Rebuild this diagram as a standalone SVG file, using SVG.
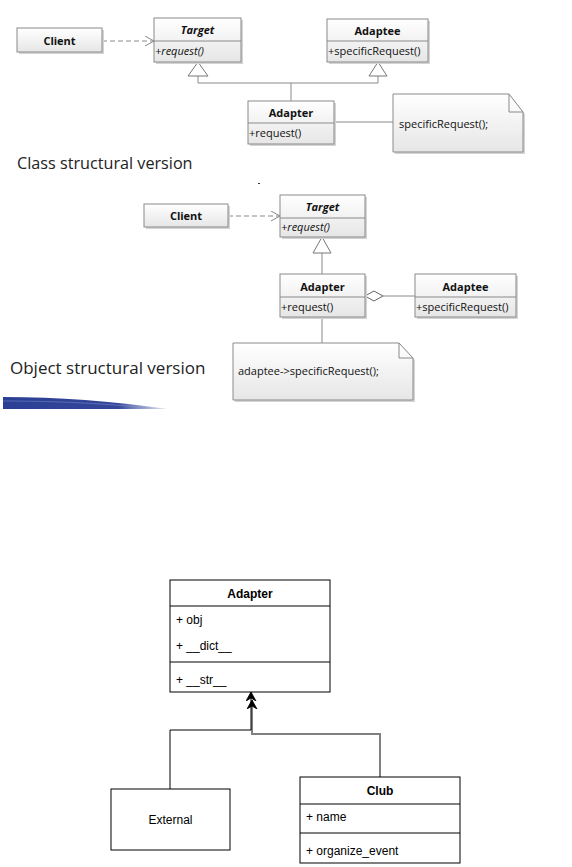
<svg xmlns="http://www.w3.org/2000/svg" width="572" height="867" viewBox="0 0 572 867">
<defs>
<linearGradient id="boxg" x1="0" y1="0" x2="0" y2="1">
<stop offset="0" stop-color="#ffffff"/>
<stop offset="1" stop-color="#e6e6e6"/>
</linearGradient>
<linearGradient id="swoosh" x1="0" y1="0" x2="1" y2="0">
<stop offset="0" stop-color="#2b3f94"/>
<stop offset="0.7" stop-color="#34469a"/>
<stop offset="1" stop-color="#6f7fc0" stop-opacity="0.2"/>
</linearGradient>
<marker id="openArrow" markerWidth="12" markerHeight="12" refX="10" refY="5" orient="auto" markerUnits="userSpaceOnUse">
<path d="M1,0 L10,5 L1,10" fill="none" stroke="#888" stroke-width="1"/>
</marker>
<marker id="blockArrow" markerWidth="10" markerHeight="12" refX="9" refY="5" orient="auto" markerUnits="userSpaceOnUse">
<path d="M0,0 L9,5 L0,10 L3,5 Z" fill="#000" stroke="#000" stroke-width="0.8"/>
</marker>
<style>
.uml{fill:url(#boxg);stroke:#8a8a8a;stroke-width:1;}
.shadow{fill:#d4d4d4;stroke:none;}
.div{stroke:#8a8a8a;stroke-width:1;}
.t{font-family:"Open Sans","Liberation Sans",sans-serif;font-size:11px;fill:#111;}
.b{font-weight:bold;}
.i{font-style:italic;}
.c{text-anchor:middle;}
.ln{stroke:#8a8a8a;stroke-width:1;fill:none;}
.tri{fill:#fff;stroke:#777;stroke-width:1;}
.note{fill:url(#boxg);stroke:#8a8a8a;stroke-width:1;}
.cap{font-family:"Open Sans","Liberation Sans",sans-serif;fill:#222;}
.d{font-family:"Liberation Sans",Arial,sans-serif;font-size:12px;fill:#000;}
.dbox{fill:#fff;stroke:#000;stroke-width:1;}
</style>
</defs>
<rect width="572" height="867" fill="#fff"/>

<!-- Top: class structural version -->
<g id="top-connectors">
<line class="ln" x1="102" y1="41" x2="154" y2="41" stroke-dasharray="5,3" marker-end="url(#openArrow)"/>
<polyline class="ln" points="198,76 198,83 378,83 378,76"/>
<line class="ln" x1="291" y1="83" x2="291" y2="101"/>
<line class="ln" x1="335" y1="122" x2="393" y2="122"/>
<polygon class="tri" points="198,62 188,76 208,76"/>
<polygon class="tri" points="378,62 369,76 387,76"/>
</g>
<g id="c1-client">
<rect class="shadow" x="19" y="30" width="85" height="24"/>
<rect class="uml" x="17" y="28" width="85" height="24"/>
<text class="t b c" x="59.5" y="44.5">Client</text>
</g>
<g id="c1-target">
<rect class="shadow" x="156" y="20" width="87" height="44"/>
<rect class="uml" x="154" y="18" width="87" height="44"/>
<line class="div" x1="154" y1="41" x2="241" y2="41"/>
<text class="t b i c" x="197.5" y="34">Target</text>
<text class="t i" x="155" y="55">+request()</text>
</g>
<g id="c1-adaptee">
<rect class="shadow" x="329" y="21" width="101" height="43"/>
<rect class="uml" x="327" y="19" width="101" height="43"/>
<line class="div" x1="327" y1="41" x2="428" y2="41"/>
<text class="t b c" x="377.5" y="35">Adaptee</text>
<text class="t" x="328" y="55">+specificRequest()</text>
</g>
<g id="c1-adapter">
<rect class="shadow" x="250" y="103" width="86" height="43"/>
<rect class="uml" x="248" y="101" width="86" height="43"/>
<line class="div" x1="248" y1="123" x2="334" y2="123"/>
<text class="t b c" x="291" y="117">Adapter</text>
<text class="t" x="249" y="137">+request()</text>
</g>
<g id="c1-note">
<path fill="#d4d4d4" d="M395,96 L511,96 L525,114 L525,154 L395,154 Z"/>
<path class="note" d="M393,94 L509,94 L523,112 L523,152 L393,152 Z"/>
<path class="ln" d="M509,94 L509,112 L523,112"/>
<text class="t" x="399" y="128">specificRequest();</text>
</g>
<text class="cap" x="17" y="169" font-size="16.2">Class structural version</text>

<rect x="258" y="183" width="2" height="1" fill="#333"/>

<!-- Middle: object structural version -->
<g id="mid-connectors">
<line class="ln" x1="228" y1="216" x2="280" y2="216" stroke-dasharray="5,3" marker-end="url(#openArrow)"/>
<line class="ln" x1="322" y1="253" x2="322" y2="274"/>
<polygon class="tri" points="322,237 313,253 331,253"/>
<line class="ln" x1="383" y1="296" x2="415" y2="296"/>
<polygon fill="#fff" stroke="#666" stroke-width="1" points="365,296 374,291 383,296 374,301"/>
<line class="ln" x1="322" y1="317" x2="322" y2="343"/>
</g>
<g id="c2-client">
<rect class="shadow" x="146" y="206" width="84" height="23"/>
<rect class="uml" x="144" y="204" width="84" height="23"/>
<text class="t b c" x="186" y="220">Client</text>
</g>
<g id="c2-target">
<rect class="shadow" x="282" y="197" width="85" height="42"/>
<rect class="uml" x="280" y="195" width="85" height="42"/>
<line class="div" x1="280" y1="218" x2="365" y2="218"/>
<text class="t b i c" x="322.5" y="211">Target</text>
<text class="t i" x="281" y="231">+request()</text>
</g>
<g id="c2-adapter">
<rect class="shadow" x="282" y="276" width="85" height="43"/>
<rect class="uml" x="280" y="274" width="85" height="43"/>
<line class="div" x1="280" y1="297" x2="365" y2="297"/>
<text class="t b c" x="322.5" y="290.5">Adapter</text>
<text class="t" x="281" y="311">+request()</text>
</g>
<g id="c2-adaptee">
<rect class="shadow" x="417" y="276" width="101" height="43"/>
<rect class="uml" x="415" y="274" width="101" height="43"/>
<line class="div" x1="415" y1="297" x2="516" y2="297"/>
<text class="t b c" x="465.5" y="290.5">Adaptee</text>
<text class="t" x="416" y="311">+specificRequest()</text>
</g>
<g id="c2-note">
<path fill="#d4d4d4" d="M235,345 L401,345 L415,360 L415,402 L235,402 Z"/>
<path class="note" d="M233,343 L399,343 L413,358 L413,400 L233,400 Z"/>
<path class="ln" d="M399,343 L399,358 L413,358"/>
<text class="t" x="238" y="375">adaptee-&gt;specificRequest();</text>
</g>
<text class="cap" x="10" y="374" font-size="17">Object structural version</text>

<path d="M3,397 C60,397 110,401 168,409 L3,409 Z" fill="url(#swoosh)"/>
<path d="M3,401 C60,401 110,404 150,408" fill="none" stroke="#8594d0" stroke-width="0.8" opacity="0.6"/>

<!-- Bottom: draw.io diagram -->
<g id="connectors">
<polyline points="380,777 380,734 252,734 252,700" fill="none" stroke="#808080" stroke-width="2" marker-end="url(#blockArrow)"/>
<polyline points="170,789 170,730 251,730 251,692" fill="none" stroke="#000" stroke-width="1" marker-end="url(#blockArrow)"/>
</g>
<g id="adapter">
<rect class="dbox" x="170" y="580" width="160" height="112"/>
<line stroke="#000" x1="170" y1="606" x2="330" y2="606"/>
<line stroke="#000" x1="170" y1="662" x2="330" y2="662"/>
<text class="d c" x="250" y="598" font-weight="bold">Adapter</text>
<text class="d" x="176" y="624">+ obj</text>
<text class="d" x="176" y="650">+ __dict__</text>
<text class="d" x="176" y="684">+ __str__</text>
</g>
<g id="external">
<rect class="dbox" x="111" y="789" width="119" height="61"/>
<text class="d c" x="170.5" y="824">External</text>
</g>
<g id="club">
<rect class="dbox" x="300" y="777" width="160" height="86"/>
<line stroke="#000" x1="300" y1="804" x2="460" y2="804"/>
<line stroke="#000" x1="300" y1="833" x2="460" y2="833"/>
<text class="d c" x="380" y="795" font-weight="bold">Club</text>
<text class="d" x="306" y="821">+ name</text>
<text class="d" x="306" y="855">+ organize_event</text>
</g>
</svg>
